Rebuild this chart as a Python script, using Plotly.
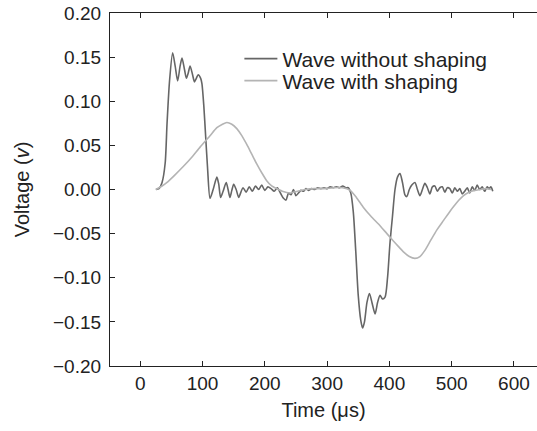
import plotly.graph_objects as go

# Wave without shaping (time in microseconds, voltage in V)
t_raw = [25, 30, 35, 40, 43, 47, 52, 56, 60, 64, 67, 71, 74, 77, 80, 84, 87, 90, 93, 97, 99, 102, 105, 108, 112,
         117, 123, 126, 129, 133, 138, 141, 144, 147, 150, 154, 158,
         160, 165, 170, 175, 180, 185, 190, 195, 200, 205, 210, 215, 220, 225, 230, 234, 238, 242, 246, 250,
         254, 258, 262, 266, 270, 275, 280, 285, 290, 295, 300, 305, 310, 315, 320, 325, 330, 334, 338, 342,
         346, 350, 354, 357, 360, 364, 368, 372, 377, 381, 385, 389, 393, 397, 401, 405, 409, 413, 417, 421,
         425, 428, 432, 436, 441, 445, 449, 453, 457, 461, 465, 469, 473, 477, 481, 485, 489, 493, 497, 501,
         505, 509, 513, 517, 521, 525, 529, 533, 537, 541, 545, 549, 553, 557, 560, 563, 566]
v_raw = [0.000, 0.001, 0.008, 0.030, 0.075, 0.123, 0.155, 0.140, 0.123, 0.140, 0.149, 0.136, 0.126, 0.132, 0.140,
         0.130, 0.122, 0.126, 0.130, 0.126, 0.120, 0.095, 0.060, 0.025, -0.010,
         0.000, 0.014, 0.006, -0.009, -0.002, 0.008, 0.000, -0.009, -0.001, 0.006, 0.000, -0.009,
         -0.006, 0.002, -0.003, 0.003, -0.002, 0.004, 0.000, 0.005, -0.001, 0.003, 0.001, -0.002, 0.002, -0.004,
         -0.010, -0.012, -0.004, -0.006, 0.000, -0.007,
         -0.004, -0.001, -0.002, 0.001, -0.001, 0.001, 0.000, 0.002, 0.001, 0.002, 0.001, 0.003, 0.002, 0.003,
         0.002, 0.004, 0.002, 0.002, -0.004, -0.025,
         -0.070, -0.120, -0.148, -0.157, -0.150, -0.128, -0.118, -0.128, -0.141, -0.128, -0.120, -0.124, -0.122,
         -0.100, -0.060, -0.030, 0.000, 0.014, 0.018, 0.008,
         -0.006, -0.008, 0.000, 0.005, 0.008, 0.000, -0.007, 0.000, 0.007, 0.002, -0.005, 0.003, 0.004, -0.002,
         0.002, 0.003, -0.003, 0.002, 0.001, -0.004,
         0.002, -0.002, 0.001, -0.005, -0.002, 0.002, -0.004, 0.003, -0.001, 0.005, 0.000, 0.003, -0.002, 0.003,
         0.001, 0.003, -0.002]

# Wave with shaping
t_shp = [25, 35, 43, 55, 69, 82, 96, 112, 123, 132, 139, 147, 155, 163, 171, 179, 187, 195, 203, 211, 219,
         228, 240, 252, 265, 280, 295, 310, 325, 337, 347, 358, 370, 385, 396, 406, 415, 423, 432, 441, 449,
         457, 466, 476, 487, 498, 508, 519, 528, 537, 546, 555, 563]
v_shp = [0.000, 0.004, 0.008, 0.016, 0.026, 0.036, 0.048, 0.061, 0.070, 0.074, 0.076, 0.074, 0.069, 0.061, 0.051,
         0.040, 0.029, 0.019, 0.010, 0.004, 0.001,
         -0.002, -0.004, -0.002, 0.000, 0.001, 0.001, 0.002, 0.002, -0.001, -0.009, -0.020, -0.030, -0.041,
         -0.050, -0.058, -0.065, -0.071, -0.076, -0.078, -0.076,
         -0.069, -0.058, -0.046, -0.035, -0.024, -0.015, -0.007, -0.003, -0.001, 0.000, 0.001, 0.000]

x_ticks = [0, 100, 200, 300, 400, 500, 600]
y_ticks = [-0.20, -0.15, -0.10, -0.05, 0.00, 0.05, 0.10, 0.15, 0.20]
y_ticktext = [("\u2212%.2f" % abs(v)) if v < 0 else "%.2f" % v for v in y_ticks]

FONT = "Liberation Sans, Arial, sans-serif"

fig = go.Figure()
fig.add_trace(go.Scatter(x=t_raw, y=v_raw, mode="lines", name="Wave without shaping", legend="legend",
                         line=dict(color="#666666", width=1.6, shape="spline", smoothing=0.7)))
fig.add_trace(go.Scatter(x=t_shp, y=v_shp, mode="lines", name="Wave with shaping", legend="legend2",
                         line=dict(color="#b4b4b4", width=1.6, shape="spline", smoothing=0.6)))

leg_common = dict(xanchor="left", yanchor="middle", bgcolor="rgba(0,0,0,0)", itemwidth=33,
                  font=dict(size=21, color="#222222"))

fig.update_layout(
    width=537, height=431,
    margin=dict(l=110, r=0, t=13, b=65),
    paper_bgcolor="white", plot_bgcolor="white",
    font=dict(family=FONT, size=19, color="#222222"),
    showlegend=True,
    legend=dict(x=0.303, y=(366 - 59) / 353, **leg_common),
    legend2=dict(x=0.303, y=(366 - 81) / 353, **leg_common),
    xaxis=dict(range=[-48.6, 637], tickmode="array", tickvals=x_ticks,
               ticks="inside", ticklen=5, tickwidth=1.2, tickcolor="#222222",
               showline=True, linecolor="#222222", linewidth=1.2, mirror="ticks",
               showgrid=False, zeroline=False,
               title=dict(text="Time (\u03bcs)", standoff=10, font=dict(size=20))),
    yaxis=dict(range=[-0.2, 0.2], tickmode="array", tickvals=y_ticks, ticktext=y_ticktext,
               ticks="inside", ticklen=5, tickwidth=1.2, tickcolor="#222222",
               showline=True, linecolor="#222222", linewidth=1.2, mirror=False,
               showgrid=False, zeroline=False, ticklabelstandoff=4,
               title=dict(text="Voltage (<i>v</i>)", standoff=18, font=dict(size=20))),
)

fig.write_html("out.html")
